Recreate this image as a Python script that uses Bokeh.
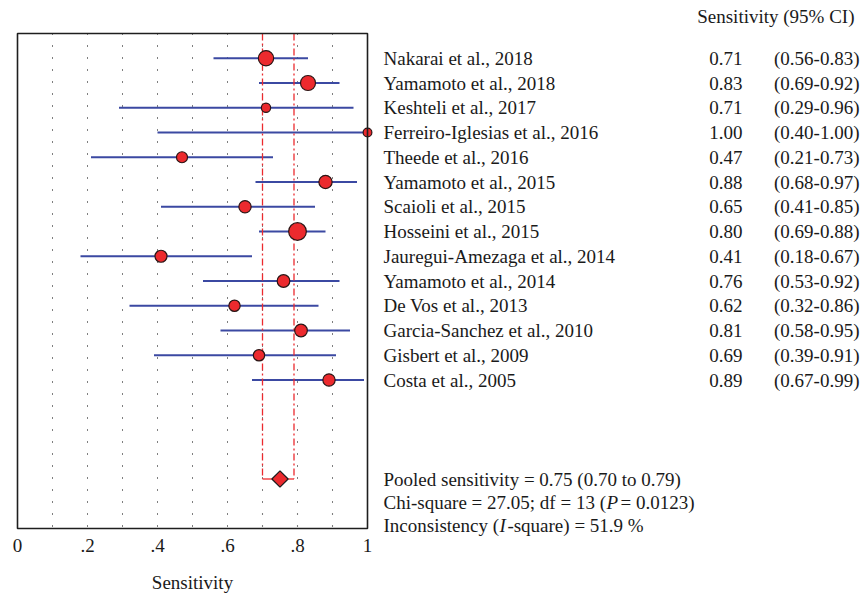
import math
from bokeh.plotting import figure
from bokeh.models import Range1d
from bokeh.core.properties import value
from bokeh.embed import file_html
from bokeh.resources import INLINE

# ---------------- data ----------------
studies = [
    "Nakarai et al., 2018", "Yamamoto et al., 2018", "Keshteli et al., 2017",
    "Ferreiro-Iglesias et al., 2016", "Theede et al., 2016", "Yamamoto et al., 2015",
    "Scaioli et al., 2015", "Hosseini et al., 2015", "Jauregui-Amezaga et al., 2014",
    "Yamamoto et al., 2014", "De Vos et al., 2013", "Garcia-Sanchez et al., 2010",
    "Gisbert et al., 2009", "Costa et al., 2005",
]
sens = [0.71, 0.83, 0.71, 1.00, 0.47, 0.88, 0.65, 0.80, 0.41, 0.76, 0.62, 0.81, 0.69, 0.89]
ci_lo = [0.56, 0.69, 0.29, 0.40, 0.21, 0.68, 0.41, 0.69, 0.18, 0.53, 0.32, 0.58, 0.39, 0.67]
ci_hi = [0.83, 0.92, 0.96, 1.00, 0.73, 0.97, 0.85, 0.88, 0.67, 0.92, 0.86, 0.95, 0.91, 0.99]
weights = [10.4, 10.0, 3.8, 3.4, 5.4, 7.8, 6.7, 13.9, 6.4, 7.1, 5.7, 7.1, 5.7, 6.7]

pooled_sens = 0.75
pooled_lo = 0.70
pooled_hi = 0.79
chi_square = 27.05
df = 13
p_value = 0.0123
i_square = 51.9

tick_vals = [0, 0.2, 0.4, 0.6, 0.8, 1]
tick_labels = ["0", ".2", ".4", ".6", ".8", "1"]
grid_vals = [0.1, 0.2, 0.3, 0.4, 0.5, 0.6, 0.7, 0.8, 0.9]
x_title = "Sensitivity"
col_header = "Sensitivity (95% CI)"

# ---------------- layout constants (pixels) ----------------
FONT = "Liberation Serif"
FS_PX = 19
FS = f"{FS_PX}px"
TXT = "#1a1a1a"
RED = "#ec2a2e"
BLUE = "#3b49a2"

W_FIG, H_FIG = 865, 595
BOX_L, BOX_R = 17, 367          # x = 0 .. 1
BOX_T, BOX_B = 33, 528          # row y_top .. y_bot

n = len(studies)
rows = list(range(n))
pooled_row = n + 3
y_top = -1
y_bot = pooled_row + 2

x_per_px = 1.0 / (BOX_R - BOX_L)
row_px = (BOX_B - BOX_T) / (y_bot - y_top)


def px_x(px):
    return (px - BOX_L) * x_per_px


def px_y(py):
    return y_top + (py - BOX_T) / row_px


p = figure(width=W_FIG, height=H_FIG,
           x_range=Range1d(px_x(0), px_x(W_FIG)),
           y_range=Range1d(px_y(H_FIG), px_y(0)),
           output_backend="svg", toolbar_location=None,
           x_axis_location=None, y_axis_location=None, min_border=0)
p.outline_line_color = None
p.xgrid.visible = False
p.ygrid.visible = False
p.background_fill_color = "white"
p.border_fill_color = "white"

# dotted reference lines inside the box
p.segment(x0=grid_vals, y0=[y_top] * len(grid_vals), x1=grid_vals, y1=[y_bot] * len(grid_vals),
          line_color="black", line_width=1.1, line_dash="1 11")

# CI lines
p.segment(x0=ci_lo, y0=rows, x1=ci_hi, y1=rows, line_color=BLUE, line_width=2)
# pooled CI dash-dot lines
p.segment(x0=[pooled_lo, pooled_hi], y0=[y_top, y_top], x1=[pooled_lo, pooled_hi],
          y1=[pooled_row, pooled_row], line_color=RED, line_width=1.3, line_dash="7 3 2 3")
p.segment(x0=[pooled_lo], y0=[pooled_row], x1=[pooled_hi], y1=[pooled_row],
          line_color=RED, line_width=1.3)
# study points
sizes = [4.75 * math.sqrt(w) for w in weights]
p.scatter(x=sens, y=rows, size=sizes, fill_color=RED, line_color="#2a1515", line_width=1.2)
# pooled diamond
p.scatter(x=[pooled_sens], y=[pooled_row], marker="square", angle=math.pi / 4, size=11.5,
          fill_color=RED, line_color="#1a1a1a", line_width=1.2)

# plot box
p.quad(left=[tick_vals[0]], right=[tick_vals[-1]], top=[y_top], bottom=[y_bot],
       fill_color=None, line_color="#1e1e1e", line_width=1.6)

common = dict(text_font=value(FONT), text_font_size=FS, text_color=TXT, text_baseline="middle")

# x tick labels and title
p.text(x=tick_vals, y=[px_y(545)] * len(tick_vals), text=tick_labels, text_align="center", **common)
p.text(x=[0.5], y=[px_y(582)], text=[x_title], text_align="center", **common)

# ---------------- right-hand text ----------------
X_NAME, X_VAL, X_CI = px_x(383), px_x(742), px_x(859)
p.text(x=[X_NAME] * n, y=rows, text=studies, text_align="left", **common)
p.text(x=[X_VAL] * n, y=rows, text=[f"{v:.2f}" for v in sens], text_align="right", **common)
p.text(x=[X_CI] * n, y=rows, text=[f"({a:.2f}-{b:.2f})" for a, b in zip(ci_lo, ci_hi)],
       text_align="right", **common)
p.text(x=[px_x(854)], y=[px_y(16)], text=[col_header], text_align="right", **common)

# Times-metric widths (per 1000 em) for placing italic pieces
W = {' ': 250, '(': 333, ')': 333, '-': 333, '=': 564, ';': 278, '.': 250, ',': 250, '%': 833,
     'C': 667, 'I': 333, 'P': 556, 'S': 556, 'a': 444, 'c': 444, 'd': 500, 'e': 444, 'f': 333,
     'h': 500, 'i': 278, 'l': 278, 'n': 500, 'o': 500, 'p': 500, 'q': 500, 'r': 333, 's': 389,
     't': 278, 'u': 500, 'v': 500, 'y': 500}
for d in "0123456789":
    W[d] = 500


def tw(s):
    return sum(W.get(c, 500) for c in s) * FS_PX / 1000.0 * x_per_px


line_gap = 23.0 / row_px
y1, y2, y3 = pooled_row, pooled_row + line_gap, pooled_row + 2 * line_gap
s1 = f"Pooled sensitivity = {pooled_sens:.2f} ({pooled_lo:.2f} to {pooled_hi:.2f})"
p.text(x=[X_NAME], y=[y1], text=[s1], text_align="left", **common)

s2a = f"Chi-square = {chi_square:.2f}; df = {df} ("
s2b = "P"
s2c = f" = {p_value:.4f})"
xb = X_NAME + tw(s2a) + 0.5 * x_per_px
xc = xb + (611 * FS_PX / 1000.0 + 2.5) * x_per_px
p.text(x=[X_NAME], y=[y2], text=[s2a], text_align="left", **common)
p.text(x=[xb], y=[y2], text=[s2b], text_align="left", text_font_style="italic", **common)
p.text(x=[xc], y=[y2], text=[s2c], text_align="left", **common)

s3a = "Inconsistency ("
s3b = "I"
s3c = f"-square) = {i_square:.1f} %"
xb3 = X_NAME + tw(s3a) + 0.5 * x_per_px
xc3 = xb3 + (333 * FS_PX / 1000.0 + 1.5) * x_per_px
p.text(x=[X_NAME], y=[y3], text=[s3a], text_align="left", **common)
p.text(x=[xb3], y=[y3], text=[s3b], text_align="left", text_font_style="italic", **common)
p.text(x=[xc3], y=[y3], text=[s3c], text_align="left", **common)

open("out.html", "w").write(file_html(p, INLINE))
